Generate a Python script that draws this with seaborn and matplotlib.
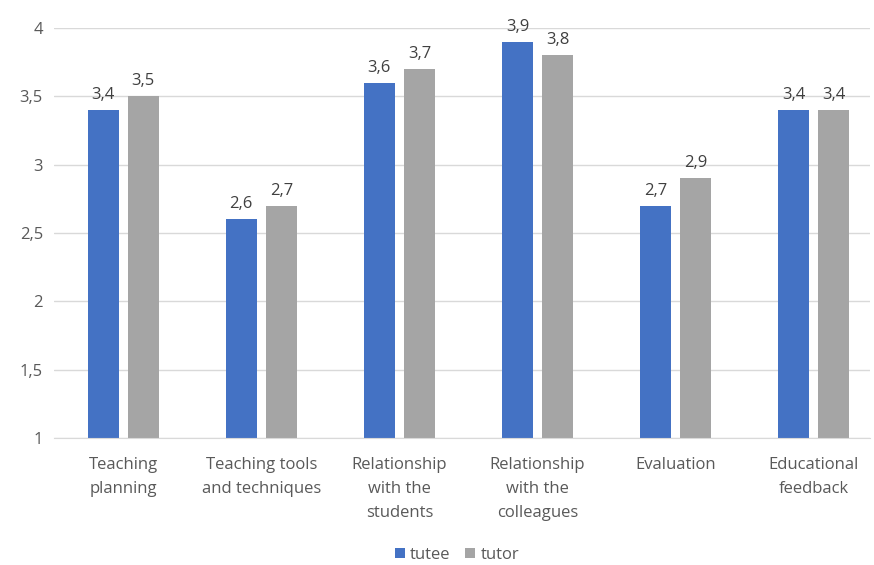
import matplotlib
matplotlib.use("Agg")
import matplotlib.pyplot as plt
import seaborn as sns
import pandas as pd

categories = ["Teaching\nplanning", "Teaching tools\nand techniques", "Relationship\nwith the\nstudents",
              "Relationship\nwith the\ncolleagues", "Evaluation", "Educational\nfeedback"]
tutee = [3.4, 2.6, 3.6, 3.9, 2.7, 3.4]
tutor = [3.5, 2.7, 3.7, 3.8, 2.9, 3.4]
series = ["tutee", "tutor"]
yticks = [1, 1.5, 2, 2.5, 3, 3.5, 4]

df = pd.DataFrame({
    "cat": categories * 2,
    "val": tutee + tutor,
    "series": [series[0]] * len(categories) + [series[1]] * len(categories),
})

sns.set_style("white")
plt.rcParams["font.family"] = ["Open Sans", "DejaVu Sans"]
txt = "#595959"

fig = plt.figure(figsize=(8.74, 5.65), dpi=100)
ax = fig.add_axes([54 / 874, 1 - 438 / 565, (870 - 54) / 874, (438 - 28) / 565])
sns.barplot(data=df, x="cat", y="val", hue="series", palette=["#4472C4", "#A5A5A5"],
            width=0.58, gap=0.225, ax=ax, legend=True, saturation=1, linewidth=0)
ax.set_ylim(1, 4)
ax.set_xlim(-0.5, 5.5 - 13 / 138)
ax.set_yticks(yticks)
ax.set_yticklabels([f"{t:g}".replace(".", ",") for t in yticks], color=txt, fontsize=12)
ax.set_xticks(range(len(categories)))
ax.set_xticklabels(categories, linespacing=1.65, fontsize=12, color=txt)
ax.tick_params(axis="y", length=0, pad=8)
ax.tick_params(axis="x", length=0, pad=14)
ax.set_xlabel("")
ax.set_ylabel("")
ax.yaxis.grid(True, color="#D9D9D9", lw=1)
ax.set_axisbelow(True)
for s in ["left", "right", "top"]:
    ax.spines[s].set_visible(False)
ax.spines["bottom"].set_color("#D9D9D9")
for c in ax.containers:
    ax.bar_label(c, labels=[f"{v:.1f}".replace(".", ",") for v in c.datavalues],
                 padding=5, fontsize=12, color="#404040", clip_on=False)
leg = ax.legend(loc="center", bbox_to_anchor=(0.5 - 5 / 816, -(555 - 438) / 410), ncol=2,
                frameon=False, fontsize=12, handlelength=0.6, handleheight=0.6,
                handletextpad=0.3, columnspacing=0.9, labelcolor=txt)
fig.savefig("out.png", dpi=100)
